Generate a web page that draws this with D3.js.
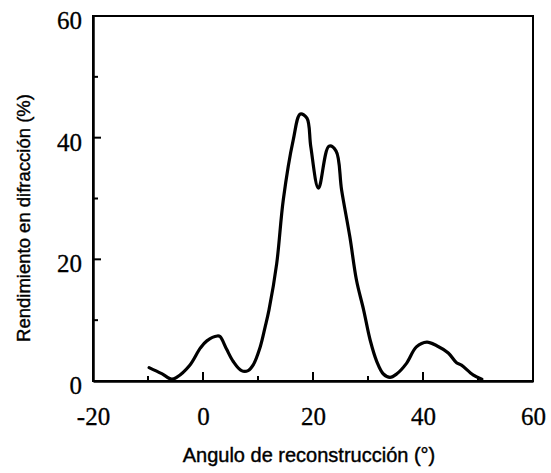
<!DOCTYPE html>
<html>
<head>
<meta charset="utf-8">
<script src="https://cdn.jsdelivr.net/npm/d3@7"></script>
<style>
  html, body { margin: 0; padding: 0; background: #fff; }
  svg { display: block; }
</style>
</head>
<body>
<svg id="chart" width="551" height="473"></svg>
<script>
// Diffraction efficiency vs reconstruction angle
const angle = [-9.8, -7.5, -5.7, -4.8, -2.4, -0.5, 0.7, 2.6, 3.1, 4.3, 5.5, 7.0, 8.2, 9.1, 10.4, 11.3, 12.0,
  13.4, 14.6, 16.4, 17.7, 18.9, 19.6, 21.0, 22.9, 24.2, 25.2, 26.7, 27.9, 29.2, 30.4, 31.6, 32.8, 34.0,
  35.2, 37.0, 38.8, 40.7, 42.5, 44.6, 46.1, 47.0, 49.1, 50.7];
const efficiency = [2.2, 1.2, 0.3, 0.6, 2.6, 5.4, 6.6, 7.4, 7.3, 5.2, 3.2, 1.7, 1.7, 2.6, 5.6, 8.9, 11.7,
  19.3, 29.8, 39.6, 43.9, 43.2, 38.5, 31.7, 38.6, 37.8, 31.4, 23.7, 16.6, 11.7, 6.7, 3.2, 1.15, 0.6,
  1.15, 2.9, 5.6, 6.4, 5.8, 4.6, 3.0, 2.6, 1.0, 0.3];
const xTicks = [-20, 0, 20, 40, 60];
const xMinor = [-10, 10, 30, 50];
const yTicks = [0, 20, 40, 60];
const yMinor = [10, 30, 50];

const svg = d3.select("#chart");
const plotL = 93, plotR = 533, plotT = 16, plotB = 381;

const x = d3.scaleLinear().domain([-20, 60]).range([plotL, plotR]);
const y = d3.scaleLinear().domain([0, 60]).range([plotB, plotT]);
const plain = d => String(d);  // ASCII hyphen for negatives

const serif = "'Liberation Serif', 'Times New Roman', serif";
const sans = "'Liberation Sans', Arial, sans-serif";

// frame
svg.append("rect")
  .attr("x", plotL).attr("y", plotT)
  .attr("width", plotR - plotL).attr("height", plotB - plotT)
  .attr("fill", "none").attr("stroke", "#000").attr("stroke-width", 2);

// bottom axis: inward ticks
const xAxis = svg.append("g").attr("transform", `translate(0,${plotB})`)
  .call(d3.axisBottom(x).tickValues(xTicks).tickSize(0).tickPadding(0).tickFormat(plain));
xAxis.select(".domain").attr("stroke-width", 2.5);
xAxis.selectAll("text")
  .attr("font-family", serif).attr("font-size", 25).attr("fill", "#000")
  .attr("stroke", "#000").attr("stroke-width", 0.3)
  .attr("dy", null).attr("y", 44);
svg.append("g").selectAll("line").data(xTicks.filter(d => d > -20 && d < 60)).join("line")
  .attr("x1", d => x(d)).attr("x2", d => x(d))
  .attr("y1", plotB).attr("y2", plotB - 9)
  .attr("stroke", "#000").attr("stroke-width", 2);
svg.append("g").selectAll("line").data(xMinor).join("line")
  .attr("x1", d => x(d)).attr("x2", d => x(d))
  .attr("y1", plotB).attr("y2", plotB - 5)
  .attr("stroke", "#000").attr("stroke-width", 2);

// left axis: inward ticks
const yAxis = svg.append("g").attr("transform", `translate(${plotL},0)`)
  .call(d3.axisLeft(y).tickValues(yTicks).tickSize(0).tickPadding(11).tickFormat(plain));
yAxis.select(".domain").attr("stroke-width", 2.5);
yAxis.selectAll("text")
  .attr("font-family", serif).attr("font-size", 25).attr("fill", "#000")
  .attr("stroke", "#000").attr("stroke-width", 0.3)
  .attr("dy", "0.5em");
svg.append("g").selectAll("line").data(yTicks.filter(d => d > 0 && d < 60)).join("line")
  .attr("x1", plotL).attr("x2", plotL + 8)
  .attr("y1", d => y(d)).attr("y2", d => y(d))
  .attr("stroke", "#000").attr("stroke-width", 2);
svg.append("g").selectAll("line").data(yMinor).join("line")
  .attr("x1", plotL).attr("x2", plotL + 5)
  .attr("y1", d => y(d)).attr("y2", d => y(d))
  .attr("stroke", "#000").attr("stroke-width", 2);

// data curve
const pts = angle.map((a, i) => [a, efficiency[i]]);
svg.append("path")
  .datum(pts)
  .attr("fill", "none").attr("stroke", "#000")
  .attr("stroke-width", 3.2).attr("stroke-linejoin", "round").attr("stroke-linecap", "round")
  .attr("d", d3.line().x(d => x(d[0])).y(d => y(d[1])).curve(d3.curveCatmullRom.alpha(0.5)));

// axis titles
svg.append("text")
  .attr("x", 309).attr("y", 462)
  .attr("text-anchor", "middle")
  .attr("font-family", sans).attr("font-size", 20).attr("fill", "#000")
  .attr("stroke", "#000").attr("stroke-width", 0.4)
  .text("Angulo de reconstrucción (°)");

svg.append("text")
  .attr("transform", "translate(30,218) rotate(-90)")
  .attr("text-anchor", "middle")
  .attr("font-family", sans).attr("font-size", 18.5).attr("fill", "#000")
  .attr("stroke", "#000").attr("stroke-width", 0.4)
  .text("Rendimiento en difracción (%)");
</script>
</body>
</html>
